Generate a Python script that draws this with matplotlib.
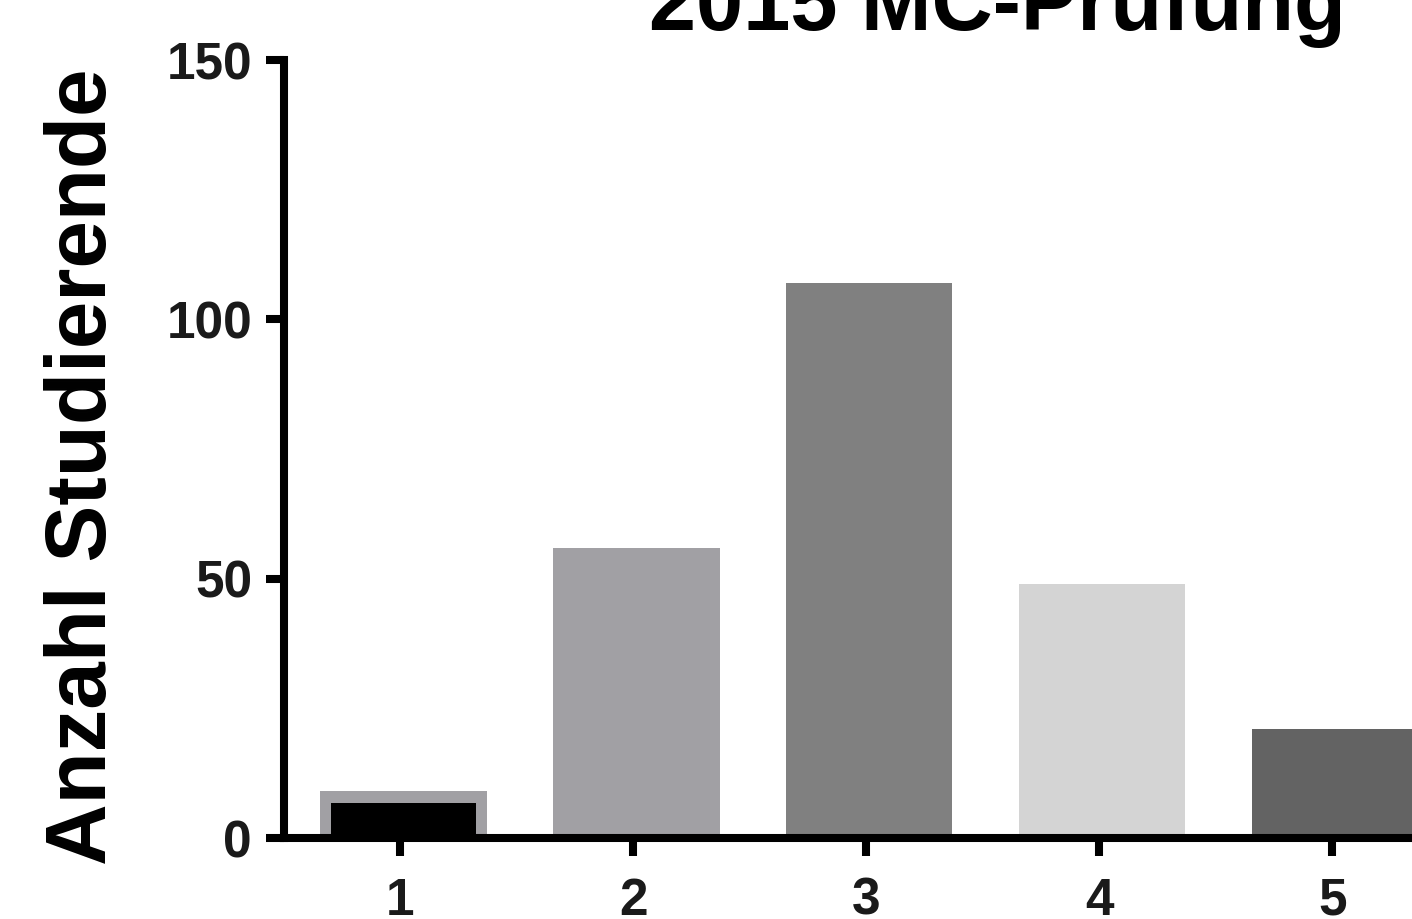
import matplotlib
matplotlib.use("Agg")
import matplotlib.pyplot as plt

# grade distribution, 2015 MC exam
grades = [1, 2, 3, 4, 5]
counts = [9, 56, 107, 49, 21]
bar_colors = ["#A1A0A4", "#A1A0A4", "#808080", "#D4D4D4", "#636363"]

plt.rcParams['font.family'] = ['Liberation Sans', 'DejaVu Sans']

fig = plt.figure(figsize=(14.12, 9.19), dpi=100)
ax = fig.add_axes([0.2011, 0.0881, 0.825, 0.8466])

bar_w = 0.715
shift = 0.012  # bars sit a hair right of the ticks in the original
xpos = [g + shift for g in grades]
ax.bar(xpos, counts, width=bar_w, color=bar_colors, linewidth=0)
# first bar: black fill inside a grey border
inset_x, inset_y = 0.047, 2.2
ax.bar(xpos[0], counts[0] - inset_y, width=bar_w - 2 * inset_x, color="black", linewidth=0)

ax.set_xlim(0.5, 5.5)
ax.set_ylim(0, 150)
ax.set_xticks(grades)
ax.set_yticks([0, 50, 100, 150])

for side in ("top", "right"):
    ax.spines[side].set_visible(False)
for side in ("left", "bottom"):
    ax.spines[side].set_linewidth(5.8)
    ax.spines[side].set_capstyle("projecting")

ax.tick_params(axis="both", length=13, width=5.8, labelsize=37, colors="black")
ax.tick_params(axis="y", pad=10)
ax.tick_params(axis="x", pad=15)
for lbl in ax.get_xticklabels() + ax.get_yticklabels():
    lbl.set_fontweight("bold")
    lbl.set_color("#1a1a1a")

fig.text(997 / 1412, 1 - 30 / 919, "2015 MC-Prüfung", ha="center", va="baseline",
         fontsize=61, fontweight="bold")
fig.text(84 / 1412, 1 - 467 / 919, "Anzahl Studierende", ha="center", va="center",
         rotation=90, fontsize=61.5, fontweight="bold")

fig.savefig("out.png", dpi=100)
